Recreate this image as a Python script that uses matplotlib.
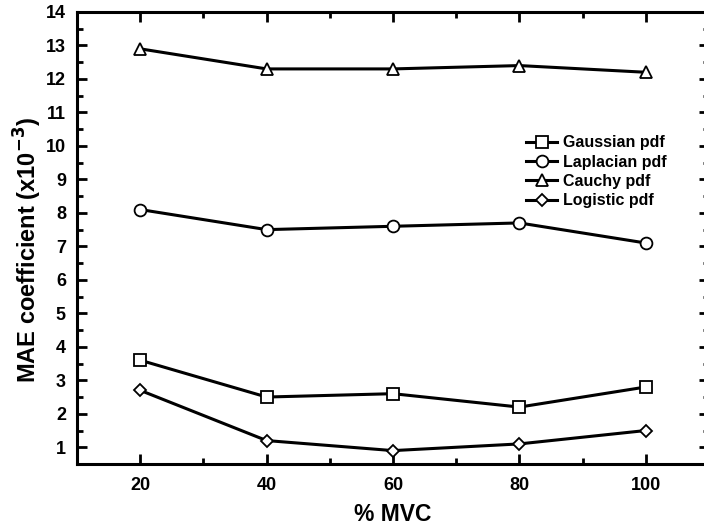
import matplotlib
matplotlib.use("Agg")
import matplotlib.pyplot as plt
from matplotlib.ticker import MultipleLocator

plt.rcParams['font.family'] = ['Liberation Sans', 'DejaVu Sans']
plt.rcParams['font.weight'] = 'bold'

mvc = [20, 40, 60, 80, 100]
gaussian = [3.6, 2.5, 2.6, 2.2, 2.8]
laplacian = [8.1, 7.5, 7.6, 7.7, 7.1]
cauchy = [12.9, 12.3, 12.3, 12.4, 12.2]
logistic = [2.7, 1.2, 0.9, 1.1, 1.5]

series = [("Gaussian pdf", gaussian, 's'),
          ("Laplacian pdf", laplacian, 'o'),
          ("Cauchy pdf", cauchy, '^'),
          ("Logistic pdf", logistic, 'D')]

W, H = 704, 525
L, R, T, B = 77, 709, 12, 464
fig = plt.figure(figsize=(W / 100, H / 100), dpi=100)
ax = fig.add_axes([L / W, (H - B) / H, (R - L) / W, (B - T) / H])

sizes = {'s': 8, 'o': 8.5, '^': 8.5, 'D': 6.5}
for name, vals, m in series:
    ax.plot(mvc, vals, color='black', lw=2.2, marker=m, ms=sizes[m],
            mfc='white', mec='black', mew=1.3, label=name)

ax.set_xlim(10, 110)
ax.set_ylim(0.5, 14)
ax.xaxis.set_minor_locator(MultipleLocator(10))
ax.yaxis.set_minor_locator(MultipleLocator(0.5))
ax.set_xticks([20, 40, 60, 80, 100])
ax.set_yticks(range(1, 15))

for s in ax.spines.values():
    s.set_linewidth(2.2)
ax.tick_params(which='both', direction='in', top=True, right=True, width=2)
ax.tick_params(which='major', length=7, labelsize=13)
ax.tick_params(axis='x', which='major', pad=9.5)
ax.tick_params(axis='y', which='major', pad=8)
ax.tick_params(which='minor', length=4)
for lbl in ax.get_xticklabels() + ax.get_yticklabels():
    lbl.set_fontweight('bold')

ax.set_xlabel('% MVC', fontsize=16.5, fontweight='bold')
ax.xaxis.set_label_coords(0.5, (B - 503) / (B - T))
ax.set_ylabel(r'MAE coefficient (x10$^{\mathbf{-3}}$)', fontsize=17, fontweight='bold')
ax.yaxis.set_label_coords((44 - L) / (R - L), (B - 250) / (B - T))

leg = ax.legend(loc='upper left',
                bbox_to_anchor=((520 - L) / (R - L), (B - 129) / (B - T)),
                frameon=False, fontsize=11.5, handlelength=1.9, handletextpad=0.4,
                labelspacing=0.27, numpoints=1, borderaxespad=0)
for t in leg.get_texts():
    t.set_fontweight('bold')

fig.savefig('out.png', dpi=100)
